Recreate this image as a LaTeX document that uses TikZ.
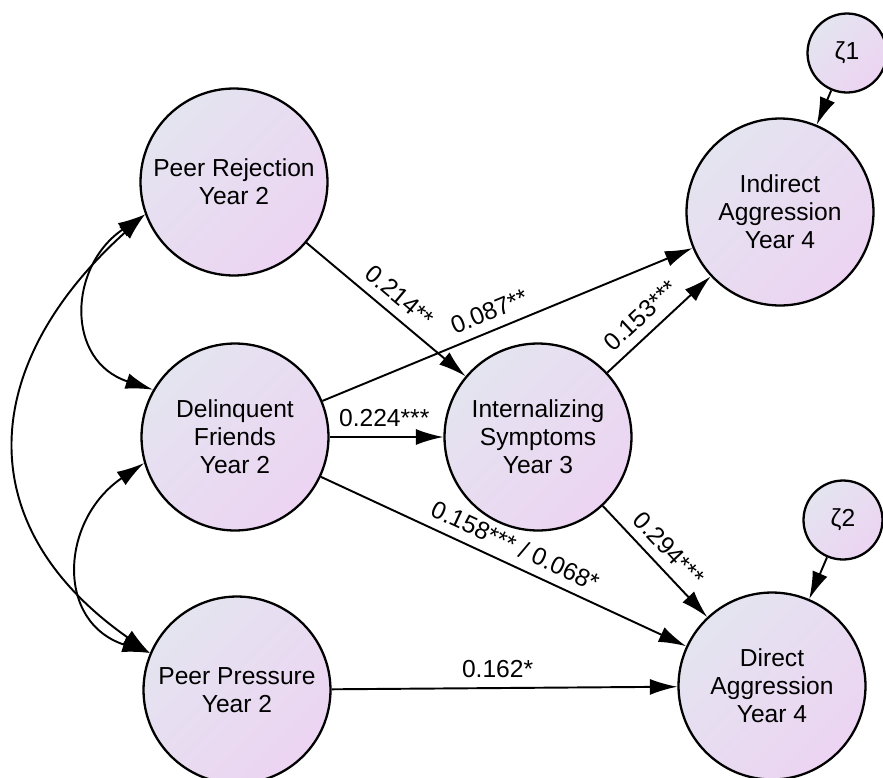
\documentclass[tikz,border=0pt]{standalone}
\usepackage{fontspec}
\setmainfont{Liberation Sans}
\usetikzlibrary{arrows.meta}

\definecolor{lavtop}{RGB}{228,228,240}
\definecolor{lavbot}{RGB}{236,212,242}

\begin{document}
\begin{tikzpicture}[x=0.02cm, y=-0.02cm,
    font=\fontsize{14}{16}\selectfont,
    latent/.style={circle, draw=black, line width=1.3pt, minimum size=3.74cm,
                   inner sep=0pt, align=center,
                   top color=lavtop, bottom color=lavbot, shading angle=45},
    resid/.style={latent, minimum size=1.58cm},
    effect/.style={line width=1.1pt, -{Latex[length=5.5mm, width=3.2mm]}},
    cov/.style={line width=1.1pt,
                {Latex[length=5.5mm, width=3.2mm]}-{Latex[length=5.5mm, width=3.2mm]}},
    coef/.style={sloped, above=2pt}]

\useasboundingbox (0, 0) rectangle (883, 778);

% draw the year 2 predictors
\node[latent] (rejection) at (234, 182) {Peer Rejection\\Year 2};
\node[latent] (delinquent) at (235, 437) {Delinquent\\Friends\\Year 2};
\node[latent] (pressure) at (237, 690) {Peer Pressure\\Year 2};

% draw the mediator and the outcomes
\node[latent] (internal) at (538, 437) {Internalizing\\Symptoms\\Year 3};
\node[latent] (indirect) at (780, 212) {Indirect\\Aggression\\Year 4};
\node[latent] (direct) at (772, 686) {Direct\\Aggression\\Year 4};

% draw the residuals
\node[resid] (zeta1) at (847, 53) {ζ1};
\node[resid] (zeta2) at (843, 520) {ζ2};

% draw the paths
\draw[effect] (rejection) -- node[coef, pos=0.51] {0.214**} (internal);
\draw[effect] (delinquent) -- node[coef, pos=0.47] {0.087**} (indirect);
\draw[effect] (delinquent) -- node[above=2pt, pos=0.48] {0.224***} (internal);
\draw[effect] (internal) -- node[coef, pos=0.45] {0.153***} (indirect);
\draw[effect] (delinquent) -- node[coef, pos=0.51] {0.158*** / 0.068*} (direct);
\draw[effect] (internal) -- node[coef, pos=0.5] {0.294***} (direct);
\draw[effect] (pressure) -- node[above=2pt, pos=0.48] {0.162*} (direct);
\draw[effect] (zeta1) -- (indirect);
\draw[effect] (zeta2) -- (direct);

% draw the covariances
\draw[cov] (rejection.200) to[out=214, in=162, looseness=1.35] (delinquent.150);
\draw[cov] (delinquent.196) to[out=214, in=162, looseness=1.35] (pressure.157);
\draw[cov] (rejection.200) to[out=222, in=145, looseness=1.3] (pressure.157);

\end{tikzpicture}
\end{document}
